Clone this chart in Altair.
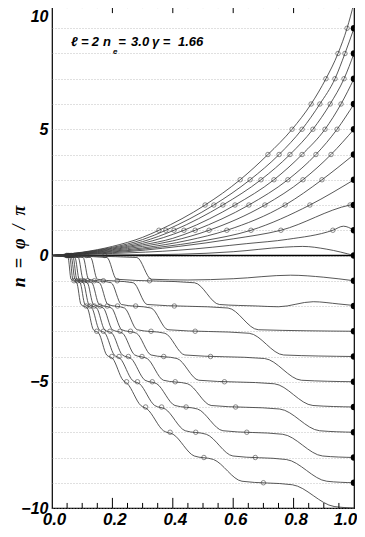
import altair as alt
import pandas as pd

# ---------------- upper curves (x, n) ----------------
U10_x = [0, 0.1, 0.2, 0.3, 0.354, 0.507, 0.623, 0.715, 0.795, 0.858, 0.907, 0.947, 0.977, 1.0]
U10_y = [0, 0.13, 0.36, 0.72, 1, 2, 3, 4, 5, 6, 7, 8, 9, 10]
U9_x = [0, 0.1, 0.2, 0.3, 0.377, 0.536, 0.656, 0.752, 0.828, 0.887, 0.937, 0.970, 1.0]
U9_y = [0, 0.12, 0.32, 0.63, 1, 2, 3, 4, 5, 6, 7, 8, 9]
U8_x = [0, 0.1, 0.2, 0.3, 0.404, 0.566, 0.692, 0.788, 0.864, 0.921, 0.967, 1.0]
U8_y = [0, 0.11, 0.29, 0.55, 1, 2, 3, 4, 5, 6, 7, 8]
U7_x = [0, 0.1, 0.2, 0.3, 0.437, 0.606, 0.735, 0.828, 0.904, 0.957, 1.0]
U7_y = [0, 0.10, 0.26, 0.48, 1, 2, 3, 4, 5, 6, 7]
U6_x = [0, 0.1, 0.2, 0.3, 0.4, 0.474, 0.652, 0.781, 0.874, 0.944, 1.0]
U6_y = [0, 0.09, 0.23, 0.42, 0.68, 1, 2, 3, 4, 5, 6]
U5_x = [0, 0.1, 0.2, 0.3, 0.4, 0.520, 0.705, 0.831, 0.924, 1.0]
U5_y = [0, 0.08, 0.20, 0.36, 0.58, 1, 2, 3, 4, 5]
U4_x = [0, 0.1, 0.2, 0.3, 0.45, 0.579, 0.772, 0.894, 1.0]
U4_y = [0, 0.07, 0.17, 0.30, 0.60, 1, 2, 3, 4]
U3_x = [0, 0.1, 0.2, 0.35, 0.5, 0.659, 0.854, 1.0]
U3_y = [0, 0.06, 0.14, 0.32, 0.58, 1, 2, 3]
U2_x = [0, 0.1, 0.2, 0.42, 0.6, 0.758, 0.987, 1.0]
U2_y = [0, 0.05, 0.11, 0.36, 0.66, 1, 2, 2.03]
U1_x = [0, 0.1, 0.2, 0.42, 0.645, 0.78, 0.930, 0.965, 1.0]
U1_y = [0, 0.04, 0.08, 0.21, 0.47, 0.64, 1.0, 1.16, 1.0]
U0_x = [0, 0.2, 0.42, 0.6, 0.77, 0.83, 0.91, 1.0]
U0_y = [0, 0.02, 0.05, 0.15, 0.33, 0.36, 0.25, 0.0]

# ---------------- lower staircase curves: x-span of each downward step ----------------
L1_steps = [(0.281, 0.329)]
L2_steps = [(0.182, 0.214), (0.472, 0.554)]
L3_steps = [(0.128, 0.150), (0.269, 0.315), (0.583, 0.683)]
L4_steps = [(0.103, 0.121), (0.196, 0.230), (0.328, 0.384), (0.653, 0.767)]
L5_steps = [(0.087, 0.103), (0.157, 0.185), (0.240, 0.282), (0.374, 0.440), (0.704, 0.826)]
L6_steps = [(0.076, 0.090), (0.132, 0.156), (0.197, 0.231), (0.280, 0.328), (0.414, 0.486),
            (0.736, 0.864)]
L7_steps = [(0.070, 0.082), (0.117, 0.137), (0.170, 0.200), (0.234, 0.274), (0.315, 0.369),
            (0.449, 0.527), (0.754, 0.886)]
L8_steps = [(0.064, 0.076), (0.104, 0.122), (0.148, 0.174), (0.199, 0.233), (0.262, 0.308),
            (0.347, 0.407), (0.482, 0.566), (0.764, 0.896)]
L9_steps = [(0.059, 0.069), (0.093, 0.109), (0.132, 0.156), (0.176, 0.206), (0.226, 0.266),
            (0.290, 0.340), (0.375, 0.441), (0.511, 0.599), (0.776, 0.910)]
L10_steps = [(0.053, 0.063), (0.082, 0.096), (0.117, 0.137), (0.155, 0.181), (0.201, 0.235),
             (0.250, 0.294), (0.315, 0.369), (0.401, 0.471), (0.535, 0.629), (0.796, 0.934)]
# final plateau shapes of the two top staircases (with their bumps)
L1_tail = [(0.45, -0.97), (0.6, -0.92), (0.79, -0.78), (0.9, -0.86), (1.0, -1.0)]
L2_tail = [(0.68, -2.0), (0.75, -2.03), (0.865, -1.83), (0.95, -1.92), (1.0, -1.98)]

# ---------------- open circles (x positions on each integer level) ----------------
up_rows = {
    1: [0.354, 0.377, 0.404, 0.437, 0.474, 0.520, 0.579, 0.659, 0.758, 0.930],
    2: [0.507, 0.536, 0.566, 0.606, 0.652, 0.705, 0.772, 0.854, 0.987],
    3: [0.623, 0.656, 0.692, 0.735, 0.781, 0.831, 0.894],
    4: [0.715, 0.752, 0.788, 0.828, 0.874, 0.924],
    5: [0.795, 0.828, 0.864, 0.904, 0.944],
    6: [0.858, 0.887, 0.921, 0.957],
    7: [0.907, 0.937, 0.967],
    8: [0.947, 0.970],
    9: [0.977],
}
low_rows = {
    0: [0.175, 0.115, 0.087, 0.074, 0.065, 0.060, 0.056, 0.053, 0.050, 0.048],
    -1: [0.073, 0.084, 0.095, 0.106, 0.118, 0.140, 0.170, 0.216, 0.323],
    -2: [0.113, 0.126, 0.140, 0.159, 0.183, 0.217, 0.277, 0.405],
    -3: [0.148, 0.170, 0.192, 0.225, 0.260, 0.328, 0.474],
    -4: [0.198, 0.222, 0.253, 0.298, 0.370, 0.525],
    -5: [0.247, 0.283, 0.332, 0.408, 0.571],
    -6: [0.310, 0.363, 0.444, 0.608],
    -7: [0.391, 0.476, 0.645],
    -8: [0.503, 0.673],
    -9: [0.700],
}
end_dots = [-9, -8, -7, -6, -5, -4, -3, -2, -1, 0, 1, 2, 3, 4, 5, 6, 7, 8, 9]

# axis ticks (drawn inward)
tick_x = [0.05, 0.10, 0.15, 0.20, 0.25, 0.30, 0.35, 0.40, 0.45, 0.50,
          0.55, 0.60, 0.65, 0.70, 0.75, 0.80, 0.85, 0.90, 0.95]
tick_len = [0.2, 0.2, 0.2, 0.4, 0.2, 0.2, 0.2, 0.4, 0.2, 0.2,
            0.2, 0.4, 0.2, 0.2, 0.2, 0.4, 0.2, 0.2, 0.2]

# annotation tokens: text, x, baseline n, font size
note_text = ["ℓ", "=", "2", "n", "e", "=", "3.0", "γ", "=", "1.66"]
note_x = [0.063, 0.096, 0.132, 0.169, 0.202, 0.219, 0.262, 0.331, 0.367, 0.417]
note_y = [8.30, 8.30, 8.30, 8.30, 7.98, 8.30, 8.30, 8.30, 8.30, 8.30]
note_size = [13, 13, 13, 13, 8, 13, 13, 13, 13, 13]

# ---------------- build tables ----------------
rows = []
uppers = [("U10", U10_x, U10_y), ("U9", U9_x, U9_y), ("U8", U8_x, U8_y), ("U7", U7_x, U7_y),
          ("U6", U6_x, U6_y), ("U5", U5_x, U5_y), ("U4", U4_x, U4_y), ("U3", U3_x, U3_y),
          ("U2", U2_x, U2_y), ("U1", U1_x, U1_y), ("U0", U0_x, U0_y)]
for name, xs, ys in uppers:
    for i, (x, y) in enumerate(zip(xs, ys)):
        rows.append({"curve": name, "x": x, "y": y, "o": i})

lowers = [("L1", L1_steps, L1_tail), ("L2", L2_steps, L2_tail), ("L3", L3_steps, None),
          ("L4", L4_steps, None), ("L5", L5_steps, None), ("L6", L6_steps, None),
          ("L7", L7_steps, None), ("L8", L8_steps, None), ("L9", L9_steps, None),
          ("L10", L10_steps, None)]
for name, steps, tail in lowers:
    pts = [(0.0, 0.0)]
    for j, (a, b) in enumerate(steps):
        pts.append((a, -j - 0.08))
        pts.append((b, -j - 1 + 0.06))
    if tail:
        pts += tail
    else:
        pts.append((1.0, -len(steps)))
    for i, (x, y) in enumerate(pts):
        rows.append({"curve": name, "x": x, "y": y, "o": i})
lines_df = pd.DataFrame(rows)

circ = []
for lvl, xs in list(up_rows.items()) + list(low_rows.items()):
    for x in xs:
        circ.append({"x": x, "y": lvl})
circ_df = pd.DataFrame(circ)
dots_df = pd.DataFrame({"x": [1.0] * len(end_dots), "y": end_dots})

ticks_df = pd.DataFrame(
    [{"x": x, "y": -10, "y2": -10 + l} for x, l in zip(tick_x, tick_len)]
    + [{"x": x, "y": 10, "y2": 10 - l} for x, l in zip(tick_x, tick_len)]
)
zero_df = pd.DataFrame({"x": [0.0], "x2": [1.0], "y": [0.0]})
label_df = pd.DataFrame({"x": note_x, "y": note_y, "t": note_text, "s": note_size})

# ---------------- encodings ----------------
FONT = "Liberation Sans"
NB = "\u00a0"
ytitle = f"n{NB} ={NB} φ{NB} /{NB} π"
xaxis = alt.Axis(values=[0, 0.2, 0.4, 0.6, 0.8, 1.0], format=".1f", grid=False, ticks=False,
                 domain=False, labelFont=FONT, labelFontSize=17, labelFontStyle="italic",
                 labelFontWeight="bold", labelColor="black", labelPadding=3,
                 labelFlush=False,
                 labelOffset={"condition": {"test": "datum.value == 1", "value": -9}, "value": 2},
                 title=None)
yaxis = alt.Axis(values=list(range(-10, 11)), labelExpr="datum.value % 5 == 0 ? datum.label : ''",
                 grid=True, gridDash=[1, 2], gridColor="#a8a8a8", gridWidth=0.7,
                 ticks=False, domain=False, labelFont=FONT, labelFontSize=16,
                 labelFontStyle="italic", labelFontWeight="bold", labelColor="black",
                 labelPadding=4,
                 labelOffset={"condition": {"test": "datum.value == 10", "value": 13}, "value": 0},
                 title=ytitle, titleFont="Liberation Serif", titleFontSize=18,
                 titleFontStyle="italic", titleFontWeight="bold", titleColor="black",
                 titleX=-33, titleY=243, titleBaseline="middle", titleAlign="center")
xs_ = alt.Scale(domain=[0, 1], nice=False, zero=False)
ys_ = alt.Scale(domain=[-10, 10], nice=False, zero=False)
X = alt.X("x:Q", scale=xs_, axis=xaxis)
Y = alt.Y("y:Q", scale=ys_, axis=yaxis)

lines = alt.Chart(lines_df).mark_line(interpolate="monotone", color="#3a3a3a",
                                       strokeWidth=0.85).encode(
    x=X, y=Y, detail="curve:N", order="o:Q")
zero = alt.Chart(zero_df).mark_rule(color="black", strokeWidth=1.7).encode(
    x=X, x2="x2:Q", y=Y)
circles = alt.Chart(circ_df).mark_point(shape="circle", size=20, filled=False,
                                         color="#333", strokeWidth=0.8).encode(x=X, y=Y)
dots = alt.Chart(dots_df).mark_point(shape="circle", size=42, filled=True, color="black",
                                      opacity=1, clip=True).encode(x=X, y=Y)
ticks = alt.Chart(ticks_df).mark_rule(color="black", strokeWidth=1).encode(
    x=X, y=Y, y2="y2:Q")
texts = alt.Chart(label_df).mark_text(align="left", baseline="alphabetic", font=FONT,
                                       fontStyle="italic", fontWeight="bold",
                                       color="black").encode(
    x=X, y=Y, text="t:N", size=alt.Size("s:Q", scale=None, legend=None))

chart = alt.layer(zero, lines, circles, dots, ticks, texts).properties(
    width=302, height=505,
    autosize=alt.AutoSizeParams(type="none"),
    padding={"left": 44, "top": -5, "right": 3, "bottom": 21},
).configure_view(stroke="black", strokeWidth=1.2)

chart.save("out.html", embed_options={"renderer": "svg", "actions": False})
